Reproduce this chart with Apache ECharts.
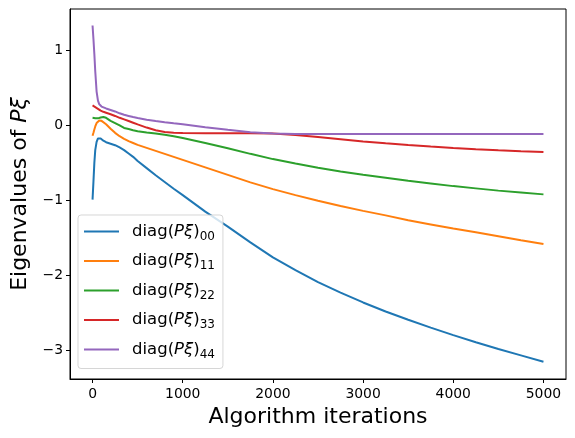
<!DOCTYPE html>
<html>
<head>
<meta charset="utf-8">
<script src="https://cdn.jsdelivr.net/npm/echarts@6/dist/echarts.min.js"></script>
<style>
html,body{margin:0;padding:0;background:#fff;}
#chart{width:575px;height:438px;}
</style>
</head>
<body>
<div id="chart"></div>
<script>
// Algorithm iterations (shared x values)
const iterations = [0,10,20,30,45,60,75,90,100,120,150,200,250,300,350,400,450,500,600,700,800,900,1000,1250,1500,1750,2000,2250,2500,2750,3000,3250,3500,3750,4000,4250,4500,4750,5000];

const diag00 = [-0.99,-0.75,-0.5,-0.33,-0.22,-0.175,-0.165,-0.175,-0.185,-0.205,-0.225,-0.245,-0.265,-0.295,-0.33,-0.375,-0.42,-0.475,-0.57,-0.665,-0.755,-0.845,-0.93,-1.15,-1.35,-1.56,-1.76,-1.93,-2.09,-2.23,-2.36,-2.48,-2.59,-2.695,-2.795,-2.89,-2.98,-3.065,-3.15];

const diag11 = [-0.14,-0.1,-0.055,-0.015,0.03,0.055,0.065,0.065,0.06,0.045,0.015,-0.045,-0.1,-0.145,-0.18,-0.21,-0.235,-0.26,-0.3,-0.34,-0.38,-0.42,-0.46,-0.56,-0.66,-0.76,-0.85,-0.93,-1.005,-1.075,-1.14,-1.2,-1.265,-1.32,-1.375,-1.425,-1.477,-1.53,-1.58];

const diag22 = [0.1,0.098,0.096,0.094,0.092,0.093,0.098,0.104,0.108,0.11,0.1,0.06,0.03,0.0,-0.035,-0.05,-0.065,-0.078,-0.095,-0.108,-0.125,-0.145,-0.17,-0.235,-0.305,-0.38,-0.45,-0.51,-0.565,-0.615,-0.66,-0.7,-0.74,-0.775,-0.81,-0.84,-0.87,-0.895,-0.92];

const diag33 = [0.265,0.258,0.25,0.243,0.232,0.22,0.207,0.196,0.19,0.18,0.168,0.148,0.125,0.1,0.08,0.058,0.035,0.012,-0.03,-0.065,-0.09,-0.1,-0.103,-0.104,-0.104,-0.104,-0.11,-0.13,-0.155,-0.185,-0.215,-0.24,-0.262,-0.283,-0.302,-0.318,-0.333,-0.346,-0.357];

const diag44 = [1.33,1.15,0.95,0.72,0.45,0.33,0.28,0.258,0.25,0.237,0.225,0.205,0.185,0.16,0.14,0.125,0.11,0.097,0.075,0.057,0.04,0.027,0.015,-0.025,-0.06,-0.092,-0.11,-0.115,-0.115,-0.115,-0.115,-0.115,-0.115,-0.115,-0.115,-0.115,-0.115,-0.115,-0.115];

const seriesNames = ['diag00','diag11','diag22','diag33','diag44'];
const seriesSubs = ['00','11','22','33','44'];
const seriesValues = [diag00, diag11, diag22, diag33, diag44];
const colors = ['#1f77b4','#ff7f0e','#2ca02c','#d62728','#9467bd'];

const xTicks = [0,1000,2000,3000,4000,5000];
const yTicks = [-3,-2,-1,0,1];

const FONT = 'DejaVu Sans';
const chart = echarts.init(document.getElementById('chart'), null, {renderer:'canvas'});

function fmtNum(v){ return v < 0 ? '\u2212' + (-v) : String(v); }

const option = {
  animation: false,
  backgroundColor: '#ffffff',
  color: colors,
  grid: {
    left: 70, right: 9, top: 9, bottom: 59,
    show: true, borderColor: '#000', borderWidth: 1, backgroundColor: 'transparent'
  },
  xAxis: {
    type: 'value', min: -250, max: 5250,
    name: 'Algorithm iterations', nameLocation: 'middle', nameGap: 27,
    nameTextStyle: {fontFamily: FONT, fontSize: 22, color: '#000'},
    axisLine: {show: true, onZero: false, lineStyle: {color: '#000', width: 1}},
    axisTick: {show: true, inside: false, length: 4, lineStyle: {color: '#000', width: 1}, customValues: xTicks},
    axisLabel: {fontFamily: FONT, fontSize: 13.9, color: '#000', margin: 8, customValues: xTicks, formatter: fmtNum},
    splitLine: {show: false}
  },
  yAxis: {
    type: 'value', min: -3.38, max: 1.55,
    name: '{n|Eigenvalues of }{i|P\u03BE}', nameLocation: 'middle', nameGap: 31, nameRotate: 90,
    nameTextStyle: {fontFamily: FONT, fontSize: 22, color: '#000',
      rich: {n: {fontFamily: FONT, fontSize: 22, color: '#000'}, i: {fontFamily: FONT, fontSize: 22, fontStyle: 'italic', color: '#000'}}},
    axisLine: {show: true, onZero: false, lineStyle: {color: '#000', width: 1}},
    axisTick: {show: true, inside: false, length: 4, lineStyle: {color: '#000', width: 1}, customValues: yTicks},
    axisLabel: {fontFamily: FONT, fontSize: 13.9, color: '#000', margin: 7, customValues: yTicks, formatter: fmtNum},
    splitLine: {show: false}
  },
  legend: {
    orient: 'vertical', left: 78, top: 215,
    padding: [8, 8, 8, 6],
    itemWidth: 35, itemHeight: 2, itemGap: 10,
    icon: 'rect',
    backgroundColor: 'rgba(255,255,255,0.8)',
    borderColor: 'rgba(204,204,204,0.8)', borderWidth: 1, borderRadius: 3,
    data: seriesNames,
    formatter: function(name){
      const i = seriesNames.indexOf(name);
      return '{f|diag(}{i|P\u03BE}{n|)}{s|' + seriesSubs[i] + '}';
    },
    textStyle: {
      fontFamily: FONT, fontSize: 16, color: '#000',
      rich: {
        f: {fontFamily: FONT, fontSize: 16.5, color: '#000', lineHeight: 22, padding: [0, 0, 0, 8]},
        n: {fontFamily: FONT, fontSize: 16.5, color: '#000', lineHeight: 22},
        i: {fontFamily: FONT, fontSize: 16.5, fontStyle: 'italic', color: '#000', lineHeight: 22},
        s: {fontFamily: FONT, fontSize: 12, color: '#000', lineHeight: 15, verticalAlign: 'bottom'}
      }
    }
  },
  series: seriesNames.map((nm, k) => ({
    name: nm, type: 'line', showSymbol: false, symbol: 'none',
    lineStyle: {width: 2, color: colors[k]},
    itemStyle: {color: colors[k]},
    z: 2,
    data: iterations.map((x, j) => [x, seriesValues[k][j]])
  }))
};
chart.setOption(option);
</script>
</body>
</html>
